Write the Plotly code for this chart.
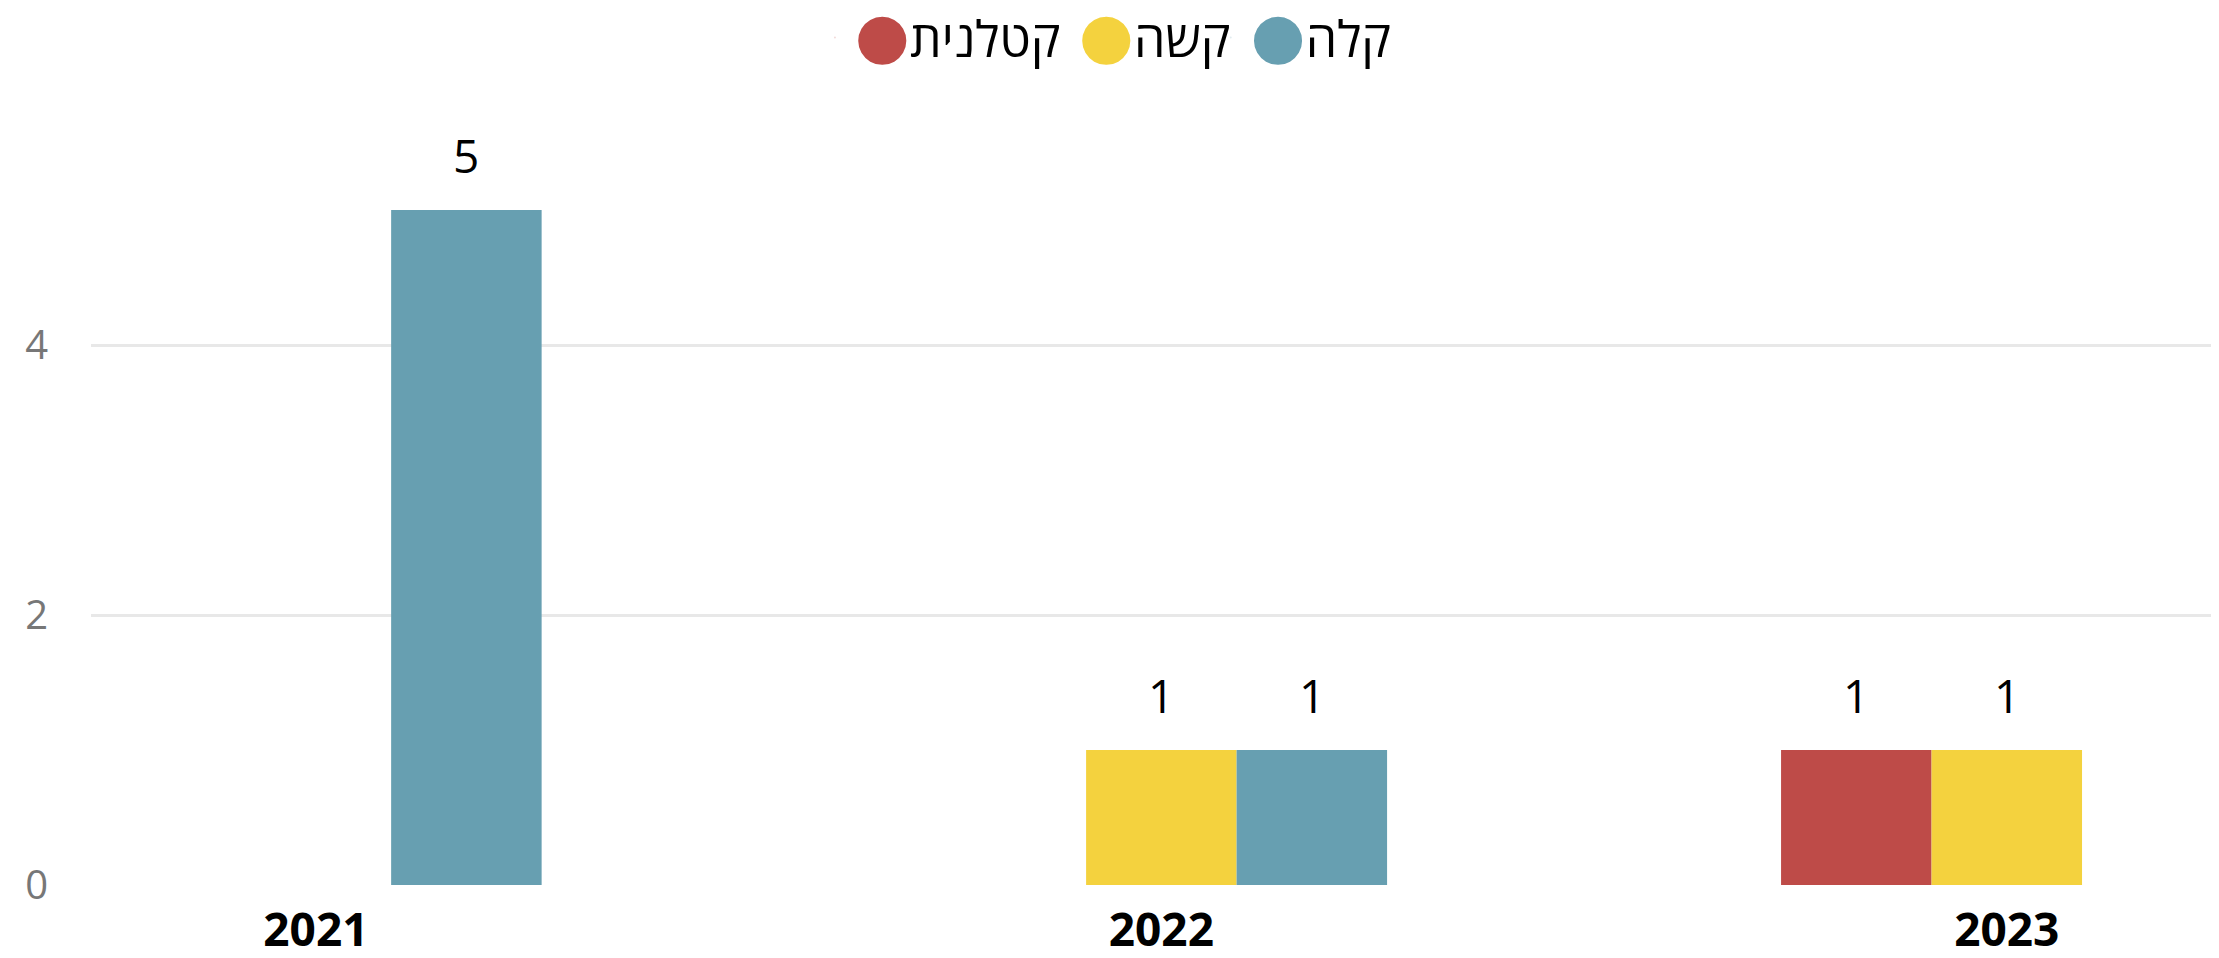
import plotly.graph_objects as go

years = ["2021", "2022", "2023"]
series_names = ["קטלנית", "קשה", "קלה"]
katlanit = [None, None, 1]
kasha = [None, 1, 1]
kala = [5, 1, None]
colors = ["#BE4B48", "#F4D23E", "#679FB1"]

y_ticks = [0, 2, 4]

FONT = "Open Sans, Noto Sans, DejaVu Sans, sans-serif"
bargap = 0.466
bar_w = (1 - bargap) / 3

# one small legend per series so each entry can be placed like the original
legend_ids = ["legend", "legend2", "legend3"]
legend_x = [0.3402, 0.4455, 0.5262]

fig = go.Figure()
x_pos = list(range(len(years)))
all_vals = [katlanit, kasha, kala]

for k, (name, vals, col) in enumerate(zip(series_names, all_vals, colors)):
    fig.add_trace(go.Bar(
        x=x_pos, y=vals, name=name, marker=dict(color=col, line=dict(width=0)),
        showlegend=False, hoverinfo="skip",
    ))
    # legend entry: plotly caps legend marker size, so the dot is drawn as a glyph
    fig.add_trace(go.Scatter(
        x=[None], y=[None], mode="markers", legend=legend_ids[k],
        name=f"<span style='color:{col};font-size:63px'>●</span>{name}",
        marker=dict(color=col, size=1, opacity=0),
    ))
    # value labels above each bar
    for i, v in enumerate(vals):
        if v is None:
            continue
        fig.add_annotation(
            x=i + (k - 1) * bar_w, y=v, text=str(v), showarrow=False,
            yanchor="bottom", yshift=22,
            font=dict(family=FONT, size=46, color="#000000"),
        )

legend_style = dict(
    orientation="h", xanchor="left", yref="container", y=0.969, yanchor="middle",
    font=dict(family=FONT, size=50, color="#000000"),
    itemwidth=30, bgcolor="rgba(0,0,0,0)",
)
for lid, lx in zip(legend_ids, legend_x):
    fig.update_layout({lid: dict(legend_style, x=lx)})

fig.update_layout(
    width=2211, height=950,
    margin=dict(l=83, r=0, t=67, b=73, autoexpand=False),
    paper_bgcolor="white", plot_bgcolor="white",
    barmode="group", bargap=bargap, bargroupgap=0,
    font=dict(family=FONT),
    xaxis=dict(
        range=[-0.266, 2.251], tickmode="array", tickvals=x_pos, ticktext=years,
        showgrid=False, zeroline=False, showline=False, automargin=False,
        tickfont=dict(family=FONT, size=46, color="#000000", weight="bold"),
        ticklabelstandoff=14,
    ),
    yaxis=dict(
        range=[0, 6], tickmode="array", tickvals=y_ticks,
        showgrid=True, gridcolor="#E8E8E8", gridwidth=3,
        zeroline=False, showline=False, automargin=False,
        tickfont=dict(family=FONT, size=40, color="#777777"),
        ticklabelstandoff=42,
    ),
)

fig.write_html("out.html")
